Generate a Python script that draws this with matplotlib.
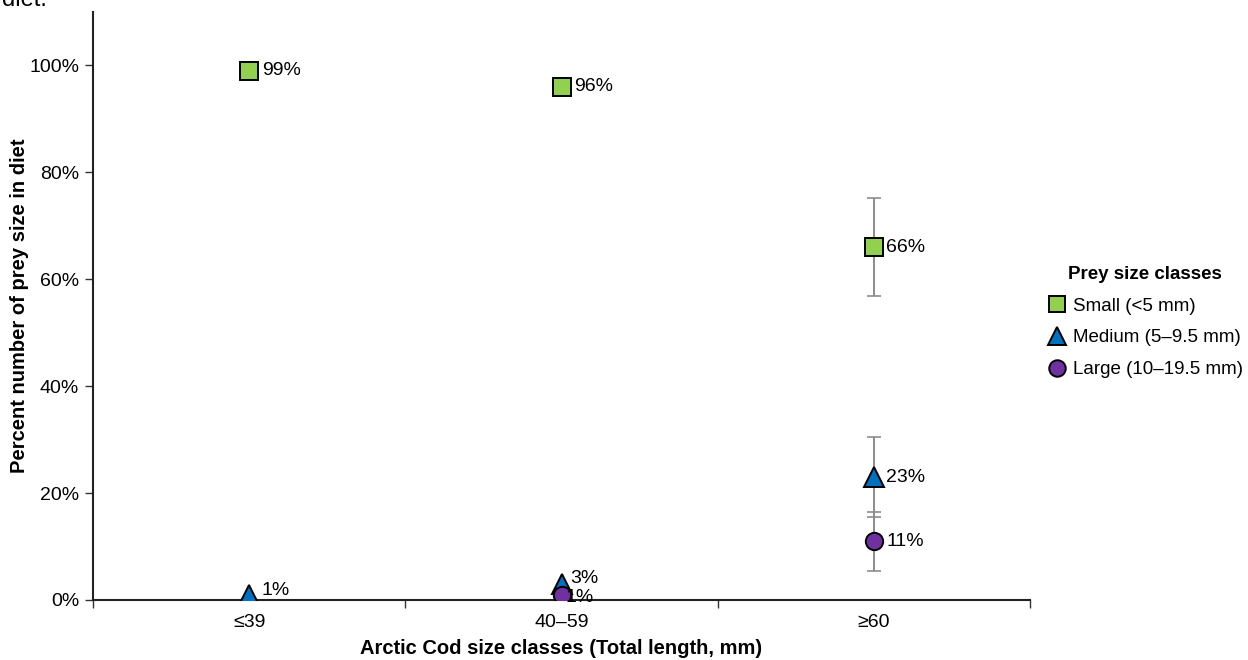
import numpy as np
import matplotlib
matplotlib.use("Agg")
import matplotlib.pyplot as plt

plt.rcParams['font.family'] = ['Liberation Sans', 'DejaVu Sans']

categories = ["≤39", "40–59", "≥60"]
small = [99, 96, 66]
medium = [1, 3, 23]
large = [np.nan, 1, 11]
small_err = [np.nan, np.nan, 9.2]
medium_err = [np.nan, np.nan, 7.5]
large_err = [np.nan, np.nan, 5.5]
series_names = ["Small (<5 mm)", "Medium (5–9.5 mm)", "Large (10–19.5 mm)"]
yticks = [0, 20, 40, 60, 80, 100]

FS = 14
LEG_FS = 13.5

fig = plt.figure(figsize=(12.48, 6.6), dpi=100)
ax = fig.add_axes([93 / 1248, 1 - 600 / 660, (1030 - 93) / 1248, (600 - 12) / 660])

x = np.arange(len(categories))
styles = [
    dict(marker='s', color='#92D050', ms=12.5),
    dict(marker='^', color='#0070C0', ms=14),
    dict(marker='o', color='#7030A0', ms=12.5),
]
label_offsets = [
    [(9, 0), (9, 0), (9, 0)],
    [(9, 3), (6, 4), (9, 0)],
    [(9, 0), (3, -2), (9, 0)],
]

handles = []
for vals, errs, st, name, offs in zip([small, medium, large],
                                       [small_err, medium_err, large_err],
                                       styles, series_names, label_offsets):
    vals = np.array(vals, dtype=float)
    errs = np.array(errs, dtype=float)
    ok = ~np.isnan(errs)
    ax.errorbar(x[ok], vals[ok], yerr=errs[ok], fmt='none', ecolor='#8c8c8c',
                elinewidth=1.4, capsize=5, capthick=1.2, zorder=2)
    h, = ax.plot(x, vals, linestyle='none', marker=st['marker'], ms=st['ms'],
                 markerfacecolor=st['color'], markeredgecolor='black',
                 markeredgewidth=1.4, label=name, zorder=3)
    handles.append(h)
    for xi, v, off in zip(x, vals, offs):
        if np.isnan(v):
            continue
        ax.annotate(f"{v:.0f}%", (xi, v), xytext=off, textcoords='offset points',
                    ha='left', va='center', fontsize=FS, zorder=4)

ax.set_xlim(-0.5, 2.5)
ax.set_ylim(0, 110)
ax.set_yticks(yticks)
ax.set_yticklabels([f"{t}%" for t in yticks], fontsize=FS)
ax.set_xticks(x)
ax.set_xticklabels(categories, fontsize=FS)
ax.tick_params(axis='x', length=0, pad=10)
ax.set_xticks([-0.5, 0.5, 1.5, 2.5], minor=True)
ax.tick_params(axis='x', which='minor', length=6, width=1, direction='out', color='#333333')
ax.tick_params(axis='y', length=6, width=1, direction='out', color='#333333', pad=4)

for s in ['top', 'right']:
    ax.spines[s].set_visible(False)
for s in ['left', 'bottom']:
    ax.spines[s].set_linewidth(1.5)
    ax.spines[s].set_color('#222222')

ax.set_xlabel("Arctic Cod size classes (Total length, mm)", fontsize=FS + 0.5,
              fontweight='bold', labelpad=6)
ax.set_ylabel("Percent number of prey size in diet", fontsize=FS + 0.5,
              fontweight='bold', labelpad=0)

leg = fig.legend(handles=handles, title="Prey size classes",
                 loc='center left', bbox_to_anchor=(1046 / 1248, 1 - 322 / 660),
                 frameon=False, fontsize=LEG_FS,
                 title_fontproperties={'weight': 'bold', 'size': LEG_FS},
                 handletextpad=0.25, labelspacing=0.78, borderaxespad=0,
                 borderpad=0, handlelength=1.2, markerscale=0.95)

fig.text(0.002, 1 - 6 / 660, "diet.", fontsize=17, ha='left', va='baseline')

fig.savefig("out.png", dpi=100)
